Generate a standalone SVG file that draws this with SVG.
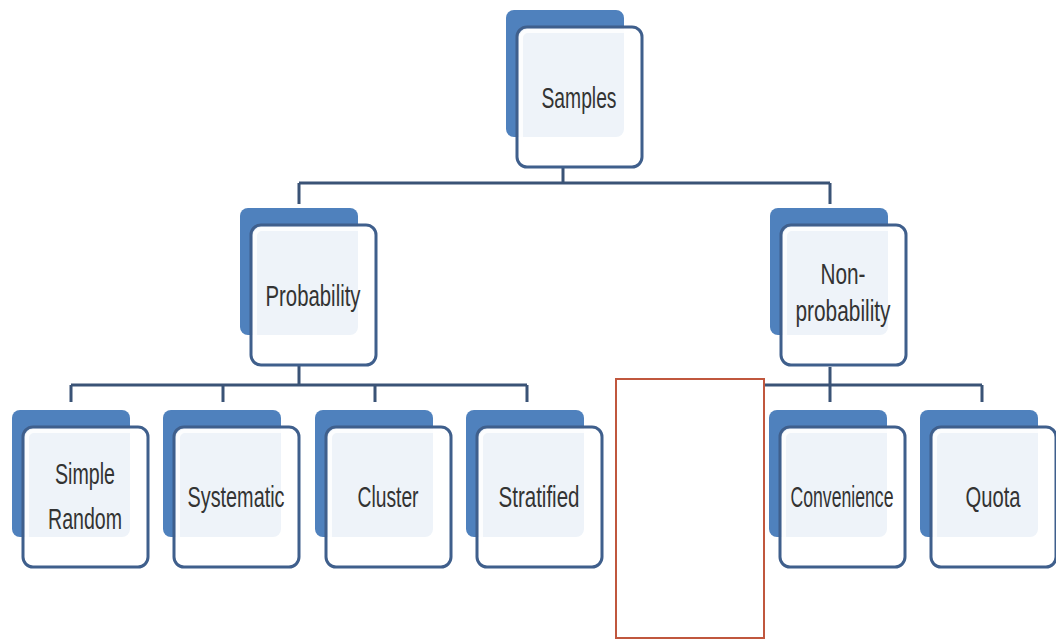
<svg xmlns="http://www.w3.org/2000/svg" width="1056" height="640" viewBox="0 0 1056 640">
<style>
.back{fill:#4F81BD;}
.front{fill:#ffffff;fill-opacity:0.9;stroke:#3F5F8C;stroke-width:3;}
.inner{fill:none;stroke:#ffffff;stroke-width:4;stroke-opacity:0.8;}
.lbl{font-family:"Liberation Sans",Arial,sans-serif;font-size:29px;fill:#333333;text-anchor:middle;}
.conn{fill:none;stroke:#3A5376;stroke-width:3;}
</style>
<defs>
<g id="box">
<rect class="back" x="0" y="0" width="118" height="127" rx="8"/>
<rect class="front" x="11" y="17" width="125" height="140" rx="10"/>
<rect class="inner" x="15" y="21" width="117" height="132" rx="7"/>
</g>
</defs>
<rect width="1056" height="640" fill="#ffffff"/>
<g id="connectors">
<path class="conn" d="M563 167 V183 M299 183 H830 M299 183 V204 M830 183 V204"/>
<path class="conn" d="M299 365 V385 M71 385 H527 M71 385 V402 M223 385 V402 M375 385 V402 M527 385 V402"/>
<path class="conn" d="M830 367 V385 M700 385 H982 M830 385 V402 M982 385 V402"/>
</g>
<g id="samples" transform="translate(506,10)">
<use href="#box"/>
<text class="lbl" x="73" y="98" textLength="75" lengthAdjust="spacingAndGlyphs">Samples</text>
</g>
<g id="probability" transform="translate(240,208)">
<use href="#box"/>
<text class="lbl" x="73" y="98" textLength="95" lengthAdjust="spacingAndGlyphs">Probability</text>
</g>
<g id="nonprobability" transform="translate(770,208)">
<use href="#box"/>
<text class="lbl" x="73" y="76" textLength="45" lengthAdjust="spacingAndGlyphs">Non-</text>
<text class="lbl" x="73" y="113" textLength="95" lengthAdjust="spacingAndGlyphs">probability</text>
</g>
<g id="simplerandom" transform="translate(12,410)">
<use href="#box"/>
<text class="lbl" x="73" y="74" textLength="60" lengthAdjust="spacingAndGlyphs">Simple</text>
<text class="lbl" x="73" y="119" textLength="74" lengthAdjust="spacingAndGlyphs">Random</text>
</g>
<g id="systematic" transform="translate(163,410)">
<use href="#box"/>
<text class="lbl" x="73" y="97" textLength="97" lengthAdjust="spacingAndGlyphs">Systematic</text>
</g>
<g id="cluster" transform="translate(315,410)">
<use href="#box"/>
<text class="lbl" x="73" y="97" textLength="61" lengthAdjust="spacingAndGlyphs">Cluster</text>
</g>
<g id="stratified" transform="translate(466,410)">
<use href="#box"/>
<text class="lbl" x="73" y="97" textLength="81" lengthAdjust="spacingAndGlyphs">Stratified</text>
</g>
<g id="convenience" transform="translate(769,410)">
<use href="#box"/>
<text class="lbl" x="73" y="97" textLength="103" lengthAdjust="spacingAndGlyphs">Convenience</text>
</g>
<g id="quota" transform="translate(920,410)">
<use href="#box"/>
<text class="lbl" x="73" y="97" textLength="55" lengthAdjust="spacingAndGlyphs">Quota</text>
</g>
<rect id="redbox" x="616" y="379" width="148" height="259" fill="#ffffff" stroke="#C0573E" stroke-width="2"/>
</svg>
